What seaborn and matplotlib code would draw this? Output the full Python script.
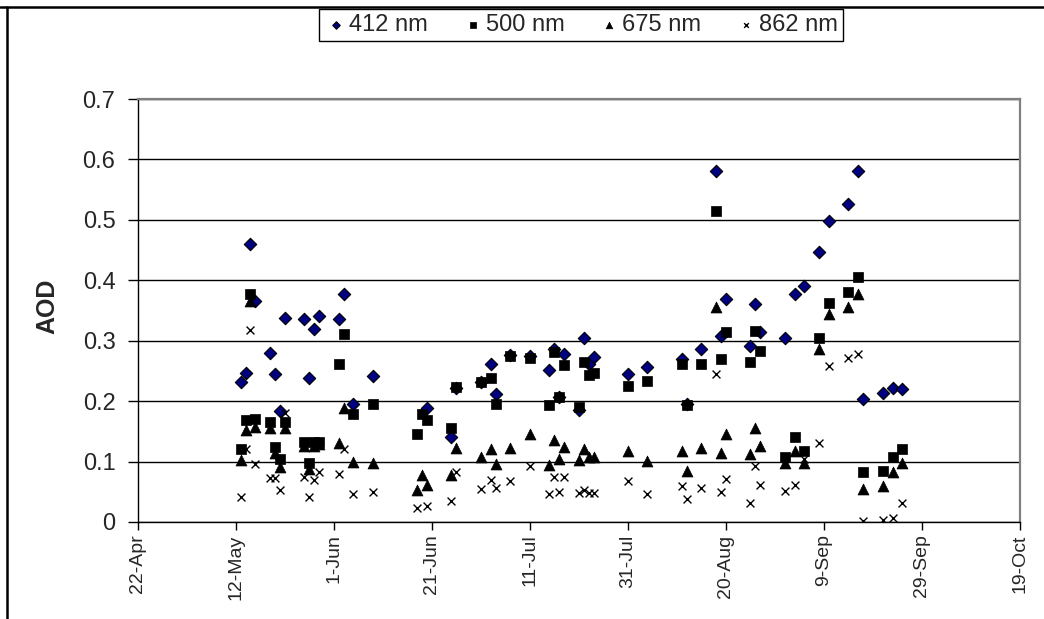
import numpy as np
import pandas as pd
import matplotlib
matplotlib.use("Agg")
import matplotlib.pyplot as plt
import seaborn as sns
from matplotlib.lines import Line2D

nan = np.nan
dates = ["05-13", "05-14", "05-15", "05-16", "05-19", "05-20", "05-21", "05-22",
         "05-26", "05-27", "05-28", "05-29", "06-02", "06-03", "06-05", "06-09",
         "06-18", "06-19", "06-20", "06-25", "06-26", "07-01", "07-03", "07-04",
         "07-07", "07-11", "07-15", "07-16", "07-17", "07-18", "07-21", "07-22",
         "07-23", "07-24", "07-31", "08-04", "08-11", "08-12", "08-15", "08-18",
         "08-19", "08-20", "08-25", "08-26", "08-27", "09-01", "09-03", "09-05",
         "09-08", "09-10", "09-14", "09-16", "09-17", "09-21", "09-23", "09-25"]
aod_412 = [.232, .247, .460, .366, .280, .245, .183, .338,
           .336, .239, .319, .341, .336, .377, .195, .242,
           nan, nan, .188, .141, .222, .232, .261, .211,
           .277, .274, .251, .286, .207, .278, .186, .304,
           .262, .273, .245, .256, .269, .195, .286, .581,
           .308, .369, .291, .360, .314, .305, .377, .391,
           .446, .498, .526, .581, .203, .214, .222, .220]
aod_500 = [.121, .168, .378, .171, .166, .124, .105, .166,
           .133, .097, .133, .133, .261, .311, .179, .195,
           .146, .179, .168, .155, .224, .231, .239, .195,
           .275, .272, .193, .281, .207, .259, .190, .265,
           .243, .246, .225, .233, .261, .193, .261, .515,
           .269, .314, .264, .316, .283, .107, .140, .118,
           .305, .363, .380, .405, .082, .084, .107, .120]
aod_675 = [.102, .152, .366, .157, .155, .115, .091, .155,
           .126, .088, .126, .129, .130, .189, .099, .098,
           .053, .078, .061, .078, .122, .107, .120, .096,
           .123, .145, .094, .135, .105, .124, .102, .121,
           .108, .108, .118, .101, .118, .084, .123, .355,
           .115, .145, .112, .156, .126, .097, .118, .098,
           .286, .344, .355, .377, .054, .060, .082, .098]
aod_862 = [.042, .120, .317, .096, .072, .072, .053, .181,
           .075, .041, .069, .083, .080, .121, .047, .049,
           .023, nan, .026, .034, .083, .054, .069, .057,
           .068, .093, .047, .075, .050, .075, .048, .053,
           .048, .048, .068, .046, .060, .038, .057, .245,
           .049, .071, .032, .093, .062, .051, .062, .105,
           .131, .258, .272, .278, .002, .004, .007, .032]
series_labels = ["412 nm", "500 nm", "675 nm", "862 nm"]
tick_labels = ["22-Apr", "12-May", "1-Jun", "21-Jun", "11-Jul", "31-Jul",
               "20-Aug", "9-Sep", "29-Sep", "19-Oct"]
y_ticks = [0, 0.1, 0.2, 0.3, 0.4, 0.5, 0.6, 0.7]
y_tick_labels = ["0", "0.1", "0.2", "0.3", "0.4", "0.5", "0.6", "0.7"]

sns.set_theme(style="white")
plt.rcParams["font.family"] = ["Liberation Sans", "DejaVu Sans"]

df = pd.DataFrame({
    "date": pd.to_datetime(["2007-" + d for d in dates]),
    "a412": aod_412, "a500": aod_500, "a675": aod_675, "a862": aod_862,
})

W, H = 1044, 619
fig = plt.figure(figsize=(W / 100, H / 100), dpi=100)
left, right, top, bottom = 137.7, 1020, 99, 522
ax = fig.add_axes([left / W, 1 - bottom / H, (right - left) / W, (bottom - top) / H])

sns.scatterplot(data=df, x="date", y="a412", marker="D", s=40, color="#000080",
                edgecolor="black", linewidth=0.8, ax=ax, label=series_labels[0], zorder=3)
sns.scatterplot(data=df, x="date", y="a500", marker="s", s=50, color="black",
                edgecolor="black", linewidth=0.5, ax=ax, label=series_labels[1], zorder=3)
sns.scatterplot(data=df, x="date", y="a675", marker="^", s=62, color="black",
                edgecolor="black", linewidth=0.5, ax=ax, label=series_labels[2], zorder=3)
sns.scatterplot(data=df, x="date", y="a862", marker="x", s=32, color="black",
                linewidth=1.0, ax=ax, label=series_labels[3], zorder=3)

xticks = pd.date_range("2007-04-22", "2007-10-19", freq="20D")
ax.set_xlim(xticks[0], xticks[-1])
ax.set_xticks(xticks)
ax.set_xticklabels(tick_labels, rotation=90, fontsize=14)
ax.set_ylim(0, 0.7)
ax.set_yticks(y_ticks)
ax.set_yticklabels(y_tick_labels, fontsize=17)
ax.set_xlabel("")
ax.set_ylabel("")

ax.grid(axis="y", color="black", linewidth=1.0)
ax.grid(axis="x", visible=False)
ax.set_axisbelow(True)
for s in ["left", "bottom"]:
    ax.spines[s].set_color("black")
    ax.spines[s].set_linewidth(1.0)
for s in ["top", "right"]:
    ax.spines[s].set_color("#808080")
    ax.spines[s].set_linewidth(1.6)
ax.tick_params(axis="both", which="major", direction="out", width=1,
               color="black", bottom=True, left=True)
ax.tick_params(axis="x", length=6, pad=3)
ax.tick_params(axis="y", length=7, pad=9)

fig.text(47 / W, 1 - 306 / H, "AOD", rotation=90, fontsize=18, fontweight="bold",
         ha="center", va="center")

leg = ax.legend(loc="center", bbox_to_anchor=(581 / W, 1 - 25 / H),
                bbox_transform=fig.transFigure, ncol=4, frameon=True, fancybox=False,
                edgecolor="black", fontsize=17, handletextpad=0.05, columnspacing=1.4,
                markerscale=0.6, borderpad=0.2, handlelength=1.0, borderaxespad=0)
leg.get_frame().set_linewidth(1.0)
leg.get_frame().set_facecolor("white")
leg.get_frame().set_alpha(1)

fig.add_artist(Line2D([0, 1], [1 - 7 / H, 1 - 7 / H], transform=fig.transFigure,
                      color="black", linewidth=1.8))
fig.add_artist(Line2D([7 / W, 7 / W], [0, 1 - 7 / H], transform=fig.transFigure,
                      color="black", linewidth=1.8))

fig.savefig("out.png", dpi=100, facecolor="white")
